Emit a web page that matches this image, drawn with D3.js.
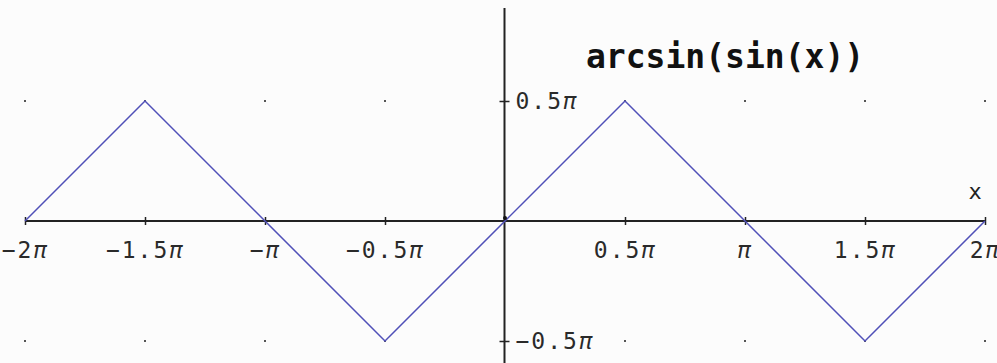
<!DOCTYPE html>
<html>
<head>
<meta charset="utf-8">
<script src="https://cdn.jsdelivr.net/npm/d3@7/dist/d3.min.js"></script>
<style>
  html, body { margin: 0; padding: 0; background: #fcfcfc; }
  svg { display: block; }
  .tick-label { font-family: "DejaVu Sans Mono", monospace; font-size: 23px; fill: #2a2a2a; letter-spacing: 2px; }
  .title { font-family: "DejaVu Sans Mono", monospace; font-size: 33px; font-weight: bold; fill: #111; }
</style>
</head>
<body>
<script>
// Sample points of y = arcsin(sin(x)), both in multiples of pi
const xPi = [-2, -1.5, -1, -0.5, 0, 0.5, 1, 1.5, 2];
const yPi = [0, 0.5, 0, -0.5, 0, 0.5, 0, -0.5, 0];

// Axis ticks (multiples of pi) and their labels
const xTicks = [-2, -1.5, -1, -0.5, 0.5, 1, 1.5, 2];
const xTickLabels = ["−2π", "−1.5π", "−π", "−0.5π", "0.5π", "π", "1.5π", "2π"];
const yTicks = [0.5, -0.5];
const yTickLabels = ["0.5π", "−0.5π"];

// Background dot lattice positions
const gridX = [-2, -1.5, -1, -0.5, 0.5, 1, 1.5, 2];
const gridY = [0.5, -0.5];

const titleText = "arcsin(sin(x))";
const axisName = "x";

const W = 997, H = 363;
const svg = d3.select("body").append("svg").attr("width", W).attr("height", H);

const x = d3.scaleLinear().domain([-2, 2]).range([25, 985]);
const y = d3.scaleLinear().domain([-0.5, 0.5]).range([341, 101]);

// write a label with the pi symbol set in italics
function piLabel(sel, label) {
  sel.text(null);
  const parts = label.split("π");
  sel.append("tspan").text(parts[0]);
  if (label.includes("π")) sel.append("tspan").attr("font-style", "italic").text("π");
}

// dot lattice
const lattice = [];
gridX.forEach(gx => gridY.forEach(gy => lattice.push([gx, gy])));
svg.append("g").selectAll("rect").data(lattice).join("rect")
  .attr("x", d => x(d[0]) - 1).attr("y", d => y(d[1]) - 1)
  .attr("width", 2).attr("height", 2).attr("fill", "#555");

// x axis
const xAxis = svg.append("g").attr("transform", `translate(0,${y(0)})`)
  .call(d3.axisBottom(x).tickValues(xTicks).tickSize(8).tickFormat((d, i) => xTickLabels[i]));
xAxis.select(".domain").attr("d", `M${x(-2)},0H${x(2)}`).attr("stroke", "#222").attr("stroke-width", 2);
xAxis.selectAll(".tick line").attr("y1", -4).attr("y2", 4).attr("stroke", "#222").attr("stroke-width", 1.5);
xAxis.selectAll(".tick text").attr("class", "tick-label").attr("y", 37).attr("dy", 0)
  .attr("font-family", null).attr("font-size", null).attr("fill", null)
  .each(function(d, i) { piLabel(d3.select(this), xTickLabels[i]); });

// y axis
const yAxis = svg.append("g").attr("transform", `translate(${x(0) - 0.5},0)`)
  .call(d3.axisRight(y).tickValues(yTicks).tickSize(8).tickFormat((d, i) => yTickLabels[i]));
yAxis.select(".domain").attr("d", `M0,8V${H}`).attr("stroke", "#222").attr("stroke-width", 2);
yAxis.selectAll(".tick line").attr("x1", -5).attr("x2", 5).attr("stroke", "#222").attr("stroke-width", 1.5);
yAxis.selectAll(".tick text").attr("class", "tick-label").attr("x", 11).attr("dy", "0.33em")
  .attr("font-family", null).attr("font-size", null).attr("fill", null)
  .each(function(d, i) { piLabel(d3.select(this), yTickLabels[i]); });

// curve
const pts = xPi.map((v, i) => [v, yPi[i]]);
svg.append("path").datum(pts)
  .attr("d", d3.line().x(d => x(d[0])).y(d => y(d[1])))
  .attr("fill", "none").attr("stroke", "#5050b8").attr("stroke-width", 1.5);

// origin marker
svg.append("circle").attr("cx", x(0)).attr("cy", y(0) - 3).attr("r", 2).attr("fill", "#111");

// axis name
svg.append("text").attr("x", 975).attr("y", 199).attr("text-anchor", "middle")
  .attr("font-family", "DejaVu Sans Mono, monospace").attr("font-size", 22).attr("fill", "#222")
  .text(axisName);

// title
svg.append("text").attr("class", "title").attr("x", 586).attr("y", 68).text(titleText);
</script>
</body>
</html>
